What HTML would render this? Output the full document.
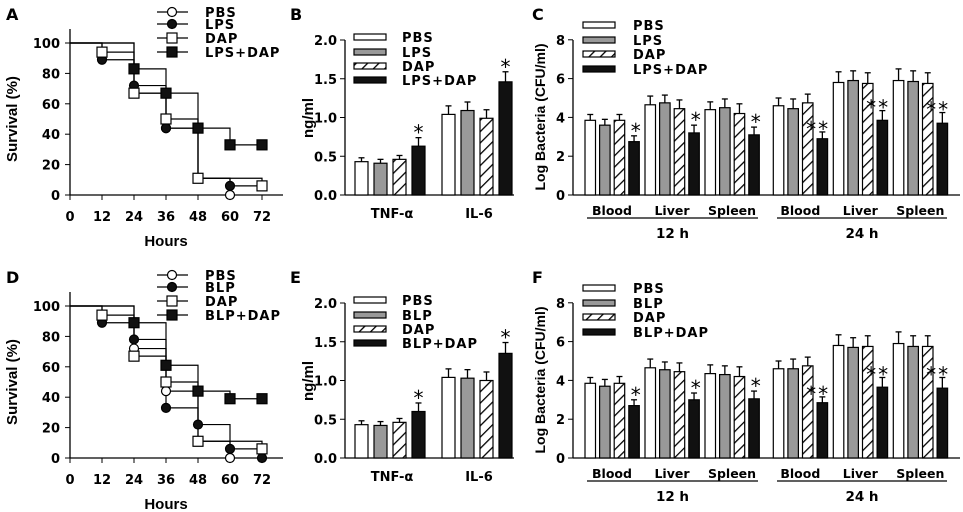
<!DOCTYPE html>
<html><head><meta charset="utf-8"><style>
html,body{margin:0;padding:0;background:#fff;}
svg{display:block;font-family:"DejaVu Sans","Liberation Sans",sans-serif;font-weight:bold;}
</style></head><body>
<svg id="fig" width="963" height="512" viewBox="0 0 963 512" xmlns="http://www.w3.org/2000/svg">
<defs>
<pattern id="hatch" patternUnits="userSpaceOnUse" width="8" height="8" patternTransform="rotate(45)">
<rect width="8" height="8" fill="#fff"/><line x1="0" y1="0" x2="0" y2="8" stroke="#000" stroke-width="2.6"/>
</pattern>
</defs>
</svg>
<script>
// ---- Survival data (A / D) ----
const survTicksX = [0,12,24,36,48,60,72];
const survTicksY = [0,20,40,60,80,100];
const aNames = ["PBS","LPS","DAP","LPS+DAP"];
const aPBS_t = [0,24,36,48,60];         const aPBS_v = [100,67,44,11,0];
const aLPS_t = [0,12,24,36,48,60,72];   const aLPS_v = [100,89,72,44,11,6,6];
const aDAP_t = [0,12,24,36,48,72];      const aDAP_v = [100,94,67,50,11,6];
const aCOMB_t = [0,24,36,48,60,72];     const aCOMB_v = [100,83,67,44,33,33];
const dNames = ["PBS","BLP","DAP","BLP+DAP"];
const dPBS_t = [0,24,36,48,60];         const dPBS_v = [100,72,44,11,0];
const dBLP_t = [0,12,24,36,48,60,72];   const dBLP_v = [100,89,78,33,22,6,0];
const dDAP_t = [0,12,24,36,48,72];      const dDAP_v = [100,94,67,50,11,6];
const dCOMB_t = [0,24,36,48,60,72];     const dCOMB_v = [100,89,61,44,39,39];
// ---- Cytokine data (B / E) ----
const cytoCats = ["TNF-\u03b1","IL-6"];
const cytoTicks = ["0.0","0.5","1.0","1.5","2.0"];
const bVals = [[0.43,0.41,0.46,0.63],[1.04,1.09,0.99,1.46]];
const bErrs = [[0.05,0.05,0.05,0.11],[0.11,0.11,0.11,0.13]];
const bStars = [["","","","*"],["","","","*"]];
const eVals = [[0.43,0.42,0.46,0.60],[1.04,1.03,1.00,1.35]];
const eErrs = [[0.05,0.05,0.05,0.11],[0.11,0.11,0.11,0.14]];
const eStars = [["","","","*"],["","","","*"]];
// ---- Bacteria data (C / F) ----
const bactCats = ["Blood","Liver","Spleen","Blood","Liver","Spleen"];
const bactTimes = ["12 h","24 h"];
const bactTicks = ["0","2","4","6","8"];
const cVals = [[3.85,3.6,3.85,2.75],[4.65,4.75,4.45,3.2],[4.4,4.5,4.2,3.1],[4.6,4.45,4.75,2.9],[5.8,5.9,5.75,3.85],[5.9,5.85,5.75,3.7]];
const cErrs = [[0.3,0.3,0.3,0.3],[0.45,0.4,0.45,0.4],[0.4,0.45,0.5,0.4],[0.4,0.5,0.45,0.35],[0.55,0.5,0.55,0.5],[0.6,0.55,0.55,0.55]];
const cStars = ["*","*","*","**","**","**"];
const fVals = [[3.85,3.7,3.85,2.7],[4.65,4.55,4.45,3.0],[4.35,4.3,4.2,3.05],[4.6,4.6,4.75,2.85],[5.8,5.7,5.75,3.65],[5.9,5.75,5.75,3.6]];
const fErrs = [[0.3,0.35,0.35,0.3],[0.45,0.4,0.45,0.35],[0.45,0.45,0.5,0.4],[0.4,0.5,0.45,0.3],[0.55,0.5,0.55,0.5],[0.6,0.55,0.55,0.55]];
const fStars = ["*","*","*","**","**","**"];

const NS="http://www.w3.org/2000/svg";
const svg=document.getElementById('fig');
function mk(tag,attrs,parent,text){const e=document.createElementNS(NS,tag);for(const k in attrs)e.setAttribute(k,attrs[k]);if(text!==undefined)e.textContent=text;(parent||svg).appendChild(e);return e;}
const fills=["#fff","#999","url(#hatch)","#111"];

function letter(t,x,y){const e=mk('text',{x:x,y:y,'font-size':16,fill:'#000'},svg,t);

}

function survival(oy,names,series,key){
  const g=mk('g',{});
  
  
  const xs=t=>70+t*32/12, ys=v=>oy-v*1.52;
  mk('line',{x1:70,y1:oy,x2:283,y2:oy,stroke:'#000','stroke-width':1.3},g);
  mk('line',{x1:70,y1:oy,x2:70,y2:oy-166,stroke:'#000','stroke-width':1.3},g);
  survTicksY.forEach(v=>{mk('line',{x1:65,y1:ys(v),x2:70,y2:ys(v),stroke:'#000'},g);
    const t=mk('text',{x:60,y:ys(v)+5,'text-anchor':'end','font-size':13},g,v);
    });
  survTicksX.forEach(v=>{mk('line',{x1:xs(v),y1:oy,x2:xs(v),y2:oy+5,stroke:'#000'},g);
    const t=mk('text',{x:xs(v),y:oy+26,'text-anchor':'middle','font-size':13},g,v);
    });
  const xt=mk('text',{x:166,y:oy+51,'text-anchor':'middle','font-size':15,'font-family':'Liberation Sans'},g,'Hours');
  
  const yt=mk('text',{transform:`translate(17,${oy-76}) rotate(-90)`,'text-anchor':'middle','font-size':15,'font-family':'Liberation Sans'},g,'Survival (%)');
  
  function marker(i,x,y,p){
    if(i<2) return mk('circle',{cx:x,cy:y,r:4.5,fill:i==0?'#fff':'#111',stroke:'#000','stroke-width':1.2},p);
    return mk('rect',{x:x-5,y:y-5,width:10,height:10,fill:i==2?'#fff':'#111',stroke:'#000','stroke-width':1.2},p);}
  series.forEach((s,i)=>{
    const [ts,vs]=s; let d=`M${xs(ts[0])},${ys(vs[0])}`;
    for(let k=1;k<ts.length;k++){d+=`H${xs(ts[k])}V${ys(vs[k])}`;}
    const p=mk('path',{d:d,fill:'none',stroke:'#000','stroke-width':1.2},g);
    
    
  });
  series.forEach((s,i)=>{const [ts,vs]=s;
    for(let k=1;k<ts.length;k++){const m=marker(i,xs(ts[k]),ys(vs[k]),g);
      }});
  const ly=[oy-183,oy-171,oy-157,oy-143];
  names.forEach((n,i)=>{const lg=mk('g',{},g);
    
    mk('line',{x1:157,y1:ly[i],x2:188,y2:ly[i],stroke:'#000','stroke-width':1.2},lg);
    marker(i,172,ly[i],lg);
    mk('text',{x:205,y:ly[i]+5,'font-size':13,'letter-spacing':1},lg,n);});
}

function drawBars(g,x0,w,ybase,vals,errs,sc){
  vals.forEach((grp,gi)=>grp.forEach((v,bi)=>{
    const x=x0(gi,bi), y=ybase-v*sc, e=errs[gi][bi]*sc;
    mk('line',{x1:x+w/2,y1:y,x2:x+w/2,y2:y-e,stroke:'#000','stroke-width':1.3},g);
    mk('line',{x1:x+w/2-3,y1:y-e,x2:x+w/2+3,y2:y-e,stroke:'#000','stroke-width':1.3},g);
    const r=mk('rect',{x:x,y:y,width:w,height:v*sc,fill:fills[bi],stroke:'#000','stroke-width':1.2},g);
    
  }));
}
function barLegend(g,x,ys,names,tx){
  names.forEach((n,i)=>{const lg=mk('g',{},g);
    
    mk('rect',{x:x,y:ys[i]-3,width:32,height:6,fill:fills[i],stroke:'#000','stroke-width':1.2},lg);
    mk('text',{x:tx,y:ys[i]+5,'font-size':13,'letter-spacing':1},lg,n);});
}

function cyto(oy,names,vals,errs,stars,key){
  const g=mk('g',{});
  
  const sc=77.5, base=oy;
  mk('line',{x1:345,y1:base,x2:514,y2:base,stroke:'#000','stroke-width':1.3},g);
  mk('line',{x1:345,y1:base,x2:345,y2:base-155,stroke:'#000','stroke-width':1.3},g);
  cytoTicks.forEach(t=>{const y=base-parseFloat(t)*sc;
    mk('line',{x1:340,y1:y,x2:345,y2:y,stroke:'#000'},g);
    const tt=mk('text',{x:337,y:y+5,'text-anchor':'end','font-size':13},g,t);
    });
  const yt=mk('text',{transform:`translate(313,${base-77}) rotate(-90)`,'text-anchor':'middle','font-size':15,'font-family':'Liberation Sans'},g,'ng/ml');
  
  const x0=(gi,bi)=>355+gi*87+bi*19;
  drawBars(g,x0,13,base,vals,errs,sc);
  vals.forEach((grp,gi)=>grp.forEach((v,bi)=>{if(stars[gi][bi]){
    const s=mk('text',{x:x0(gi,bi)+6.5,y:base-(v+errs[gi][bi])*sc+2,'text-anchor':'middle','font-size':20,'font-weight':'normal'},g,stars[gi][bi]);
    }}));
  cytoCats.forEach((c,gi)=>{const t=mk('text',{x:x0(gi,0)+37,y:base+23,'text-anchor':'middle','font-size':13},g,c);
    });
  barLegend(g,354,[base-158,base-143,base-129,base-115],names,402);
}

function bact(oy,names,vals,errs,stars,key){
  const g=mk('g',{});
  
  const base=oy, sc=19.4;
  mk('line',{x1:573,y1:base,x2:960,y2:base,stroke:'#000','stroke-width':1.3},g);
  mk('line',{x1:573,y1:base,x2:573,y2:base-155,stroke:'#000','stroke-width':1.3},g);
  bactTicks.forEach(t=>{const y=base-parseFloat(t)*sc;
    mk('line',{x1:568,y1:y,x2:573,y2:y,stroke:'#000'},g);
    const tt=mk('text',{x:565,y:y+5,'text-anchor':'end','font-size':13},g,t);
    });
  const yt=mk('text',{transform:`translate(545,${base-78}) rotate(-90)`,'text-anchor':'middle','font-size':14,'font-family':'Liberation Sans'},g,'Log Bacteria (CFU/ml)');
  
  const x0=(gi,bi)=>585+gi*60+(gi>=3?8.3:0)+bi*14.6;
  drawBars(g,x0,10.5,base,vals,errs,sc);
  vals.forEach((grp,gi)=>{const bi=3;
    const dbl=stars[gi].length>1;
    const s=mk('text',{x:x0(gi,bi)+(dbl?1:8),y:base-(grp[bi]+errs[gi][bi])*sc+(dbl?4:2),'text-anchor':'middle','font-size':20,'font-weight':'normal','letter-spacing':2},g,stars[gi]);
    });
  bactCats.forEach((c,gi)=>{const t=mk('text',{x:x0(gi,0)+27,y:base+20,'text-anchor':'middle','font-size':12.5},g,c);
    });
  bactTimes.forEach((t,i)=>{const xa=i==0?587:777, xb=i==0?758:947;
    mk('line',{x1:xa,y1:base+23,x2:xb,y2:base+23,stroke:'#000','stroke-width':1.3},g);
    const tt=mk('text',{x:(xa+xb)/2,y:base+43,'text-anchor':'middle','font-size':13.5},g,t);
    });
  barLegend(g,583,[base-170,base-155,base-141,base-126],names,633);
}

letter('A',6,20);letter('B',290,20);letter('C',532,20);
letter('D',6,283);letter('E',290,283);letter('F',532,283);
survival(195,aNames,[[aPBS_t,aPBS_v],[aLPS_t,aLPS_v],[aDAP_t,aDAP_v],[aCOMB_t,aCOMB_v]],'a');
survival(458,dNames,[[dPBS_t,dPBS_v],[dBLP_t,dBLP_v],[dDAP_t,dDAP_v],[dCOMB_t,dCOMB_v]],'d');
cyto(195,aNames,bVals,bErrs,bStars,'b');
cyto(458,dNames,eVals,eErrs,eStars,'e');
bact(195,aNames,cVals,cErrs,cStars,'c');
bact(458,dNames,fVals,fErrs,fStars,'f');
</script>
</body></html>
